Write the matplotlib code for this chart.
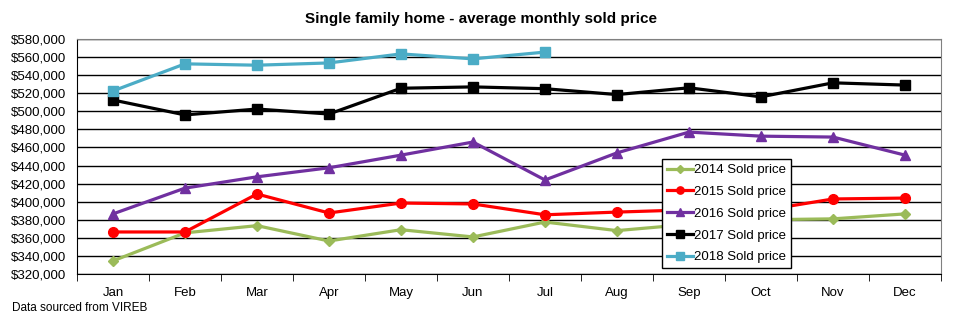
import numpy as np
import matplotlib.pyplot as plt
from matplotlib.ticker import FuncFormatter, MultipleLocator

plt.rcParams['font.family'] = ['Liberation Sans', 'DejaVu Sans']

# 월 / 연도별 평균 매매가
months = ['Jan', 'Feb', 'Mar', 'Apr', 'May', 'Jun',
          'Jul', 'Aug', 'Sep', 'Oct', 'Nov', 'Dec']
price_2014 = [334500, 365500, 373500, 356500, 369000, 361000,
              377500, 368000, 375000, 380000, 381000, 386500]
price_2015 = [366500, 366500, 408500, 387500, 398500, 397500,
              385500, 388500, 391000, 390000, 403000, 404000]
price_2016 = [386500, 415000, 427500, 437500, 451500, 466000,
              424000, 454000, 477000, 472500, 471500, 451500]
price_2017 = [512500, 496000, 502500, 497000, 525500, 527000,
              525000, 518500, 526000, 516000, 531500, 529000]
price_2018 = [522500, 552500, 551000, 553500, 563500, 558000, 565500]

fig = plt.figure(figsize=(9.67, 3.23), dpi=100)
ax = fig.add_axes([0.0796, 0.1517, 0.8935, 0.7276])

x = np.arange(len(months))

# 시리즈 그리기
series = [
    (price_2014, '2014 Sold price', '#9BBB59', 'D', 5.5),
    (price_2015, '2015 Sold price', '#FF0000', 'o', 7),
    (price_2016, '2016 Sold price', '#7030A0', '^', 7.5),
    (price_2017, '2017 Sold price', '#000000', 's', 7),
    (price_2018, '2018 Sold price', '#4BACC6', 's', 7),
]
for vals, label, color, marker, ms in series:
    ax.plot(x[:len(vals)], vals, color=color, lw=2.3, marker=marker,
            ms=ms, label=label, zorder=3)

# 축 설정
ax.set_xlim(-0.5, 11.5)
ax.set_ylim(320000, 580000)
ax.yaxis.set_major_locator(MultipleLocator(20000))
ax.yaxis.set_major_formatter(FuncFormatter(lambda v, p: f'${v:,.0f}'))
ax.grid(axis='y', color='black', lw=1)
ax.set_axisbelow(True)

ax.set_xticks(x)
ax.set_xticklabels(months)
ax.set_xticks(np.arange(-0.5, 12, 1), minor=True)
ax.tick_params(axis='x', which='major', length=0, pad=9, labelsize=9.5)
ax.tick_params(axis='x', which='minor', length=5, color='black')
ax.tick_params(axis='y', length=0, pad=8, labelsize=9.5)

for side in ['top', 'right']:
    ax.spines[side].set_color('#808080')
for side in ['left', 'bottom']:
    ax.spines[side].set_color('black')

leg = ax.legend(loc='lower left', bbox_to_anchor=(0.677, 0.026),
                fontsize=9.5, frameon=True, fancybox=False,
                edgecolor='black', framealpha=1, handlelength=2.0,
                handletextpad=0.1, borderpad=0.35, labelspacing=0.72,
                borderaxespad=0, markerscale=0.75)
leg.get_frame().set_linewidth(1)
leg.set_zorder(5)

fig.text(0.497, 0.94, 'Single family home - average monthly sold price',
         ha='center', va='center', fontsize=11, fontweight='bold')
fig.text(0.012, 0.045, 'Data sourced from VIREB', ha='left', va='center',
         fontsize=8.5)

fig.savefig('out.png', dpi=100)
